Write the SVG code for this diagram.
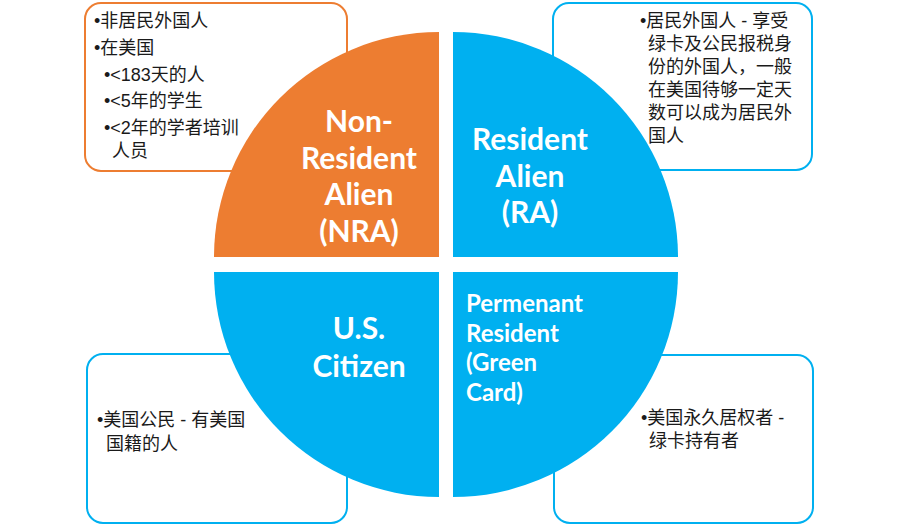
<svg xmlns="http://www.w3.org/2000/svg" width="899" height="525" viewBox="0 0 899 525">
<style>
.box{fill:#fff;stroke-width:2}
.bo{stroke:#ED7D31}
.bb{stroke:#00B0F0}
.t{font-family:"Liberation Sans","Noto Sans CJK SC",sans-serif;font-size:18px;fill:#1a1a1a}
.q{font-family:Lato,"Open Sans",sans-serif;font-weight:bold;fill:#fff}
.l{font-size:30px;text-anchor:middle}
.s{font-size:24px}
</style>
<rect width="899" height="525" fill="#fff"/>
<g id="box-nra">
<rect class="box bo" x="85" y="3" width="262" height="168" rx="16"/>
<text class="t" x="94" y="27">•非居民外国人</text>
<text class="t" x="94" y="54">•在美国</text>
<text class="t" x="104" y="81">•&lt;183天的人</text>
<text class="t" x="104" y="107">•&lt;5年的学生</text>
<text class="t" x="104" y="134">•&lt;2年的学者培训</text>
<text class="t" x="112" y="157">人员</text>
</g>
<g id="box-ra">
<rect class="box bb" x="553" y="3" width="259" height="167" rx="16"/>
<text class="t" x="640" y="27">•居民外国人 - 享受</text>
<text class="t" x="648" y="50">绿卡及公民报税身</text>
<text class="t" x="648" y="73">份的外国人，一般</text>
<text class="t" x="648" y="96">在美国待够一定天</text>
<text class="t" x="648" y="119">数可以成为居民外</text>
<text class="t" x="648" y="142">国人</text>
</g>
<g id="box-citizen">
<rect class="box bb" x="87" y="354" width="260" height="169" rx="16"/>
<text class="t" x="97" y="426">•美国公民 - 有美国</text>
<text class="t" x="106" y="450">国籍的人</text>
</g>
<g id="box-pr">
<rect class="box bb" x="554" y="355" width="259" height="168" rx="16"/>
<text class="t" x="641" y="424">•美国永久居权者 -</text>
<text class="t" x="649" y="447">绿卡持有者</text>
</g>
<g id="nra">
<path d="M439 257 L214 257 A225 225 0 0 1 439 32 Z" fill="#ED7D31"/>
<text class="q l" x="359" y="132">Non-</text>
<text class="q l" x="359" y="169">Resident</text>
<text class="q l" x="359" y="205">Alien</text>
<text class="q l" x="359" y="242">(NRA)</text>
</g>
<g id="ra">
<path d="M453 257 L453 32 A225 225 0 0 1 678 257 Z" fill="#00B0F0"/>
<text class="q l" x="530" y="150">Resident</text>
<text class="q l" x="530" y="187">Alien</text>
<text class="q l" x="530" y="223">(RA)</text>
</g>
<g id="citizen">
<path d="M439 272 L439 497 A225 225 0 0 1 214 272 Z" fill="#00B0F0"/>
<text class="q l" x="359" y="339">U.S.</text>
<text class="q l" x="359" y="377">Citizen</text>
</g>
<g id="pr">
<path d="M453 272 L678 272 A225 225 0 0 1 453 497 Z" fill="#00B0F0"/>
<text class="q s" x="466" y="312">Permenant</text>
<text class="q s" x="466" y="342">Resident</text>
<text class="q s" x="466" y="371">(Green</text>
<text class="q s" x="466" y="401">Card)</text>
</g>
</svg>
